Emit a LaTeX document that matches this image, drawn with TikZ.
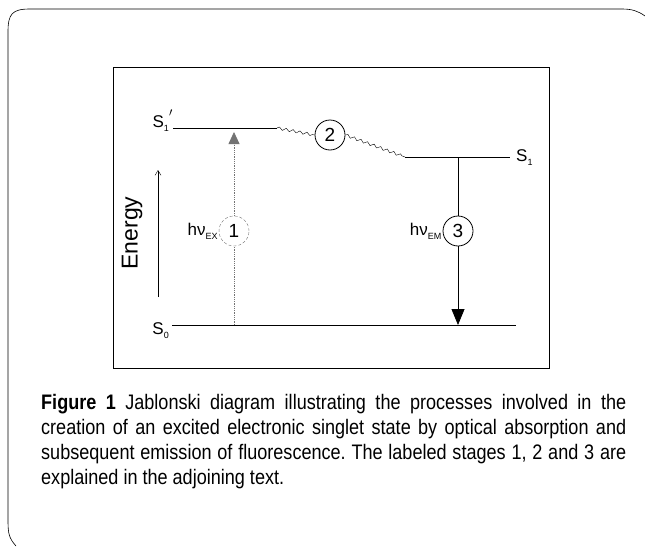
\documentclass[tikz,border=0pt]{standalone}
\usepackage{fontspec}
\setmainfont{Liberation Sans}
\newfontfamily\capfont[FakeStretch=0.86]{Liberation Sans}
\usetikzlibrary{arrows.meta,decorations.pathmorphing}
\newcommand{\lowsub}[1]{\raisebox{-0.45ex}{\fontsize{9}{9}\selectfont #1}}

\begin{document}
\begin{tikzpicture}[
    x=1pt, y=-1pt,
    level/.style={
        draw,
        line width=1pt
    },
    stage/.style={
        circle,
        draw,
        thick,
        minimum size=30pt,
        inner sep=0pt,
        font=\fontsize{19}{19}\selectfont
    },
    lbl/.style={
        font=\fontsize{17}{17}\selectfont,
        inner sep=1pt
    },
    wave/.style={
        draw,
        decorate,
        decoration={snake, amplitude=1.4pt, segment length=7pt}
    },
    faint/.style={
        draw=black!55,
        densely dotted,
        thick
    }
]
    \useasboundingbox (0,0) rectangle (645,546);

    % --- Frames ---
    \draw[line width=0.6pt] (16,546) .. controls (9,538) and (8,534) .. (8,520)
        -- (8,32) .. controls (8,14) and (12,9) .. (30,9) -- (622,9)
        .. controls (632,9) and (638,11) .. (645,16);
    \draw[line width=0.6pt] (113,67) rectangle (549,368);

    % --- Energy levels ---
    \coordinate (s1pl) at (173,128);
    \coordinate (s1pr) at (277,128);
    \coordinate (s1l) at (405,157);
    \coordinate (s1r) at (510,157);
    \coordinate (s0l) at (172,325);
    \coordinate (s0r) at (516,325);
    \path [level] (s1pl) -- (s1pr);
    \path [level] (s1l) -- (s1r);
    \path [level] (s0l) -- (s0r);

    \node [lbl, anchor=east] (lab1p) at (174,121) {S\lowsub{1}\raisebox{0.55ex}{$'$}};
    \node [lbl, anchor=west] (lab1) at (515,158) {S\lowsub{1}};
    \node [lbl, anchor=east] (lab0) at (170,331) {S\lowsub{0}};

    % --- Energy axis ---
    \coordinate (ebot) at (158,297);
    \coordinate (etop) at (158,170);
    \draw [-{Straight Barb[length=5pt,width=6pt]}, thin] (ebot) -- (etop);
    \node [rotate=90, font=\fontsize{23}{23}\selectfont] (energy) at (132,233) {Energy};

    % --- Stage 1: absorption ---
    \node [stage, draw=black!55, densely dashed, thin] (c1) at (234,231) {1};
    \coordinate (exbot) at (234,325);
    \coordinate (extop) at (234,132);
    \path [faint] (exbot) -- (c1);
    \path [faint, -{Triangle[length=12pt,width=11pt]}] (c1) -- (extop);
    \node [lbl, anchor=east] (hex) at (c1.west) {hν\lowsub{EX}};

    % --- Stage 2: relaxation ---
    \node [stage] (c2) at (330,135) {2};
    \path [wave] (s1pr) -- (c2.west);
    \path [wave] (c2.east) -- (s1l);

    % --- Stage 3: emission ---
    \node [stage] (c3) at (458,231) {3};
    \coordinate (emtop) at (458,157);
    \coordinate (embot) at (458,325);
    \draw [thick] (emtop) -- (c3);
    \draw [thick, -{Triangle[length=16pt,width=13pt]}] (c3) -- (embot);
    \node [lbl, anchor=east] (hem) at (c3.west) {hν\lowsub{EM}};

    % --- Caption ---
    \node [anchor=north west, text width=585pt, align=justify, inner sep=0pt,
           font=\capfont\fontsize{21}{25}\selectfont\frenchspacing] (caption) at (41,394)
        {\textbf{Figure 1} Jablonski diagram illustrating the processes involved in the\linebreak
         creation of an excited electronic singlet state by optical absorption and\linebreak
         subsequent emission of fluorescence. The labeled stages 1, 2 and 3 are\linebreak
         explained in the adjoining text.};
\end{tikzpicture}
\end{document}
